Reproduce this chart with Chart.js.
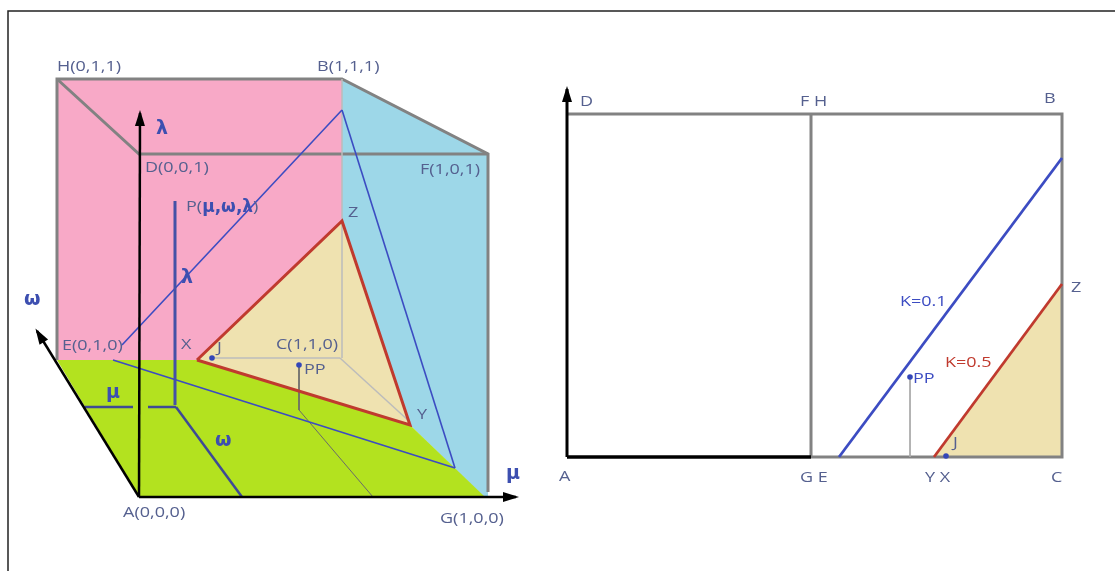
<!DOCTYPE html>
<html><head><meta charset="utf-8">
<script src="https://cdn.jsdelivr.net/npm/chart.js@4.4.0/dist/chart.umd.min.js"></script>
<style>html,body{margin:0;padding:0;background:#fff;overflow:hidden}canvas{display:block}</style>
</head><body>
<canvas id="c" width="1115" height="571"></canvas>
<script>
// ---------- data (picture coordinates) ----------
const frame        = [[8,571],[8,11],[1115,11]];
// left panel: faces
const pinkFace     = [[57,79],[342,79],[342,360],[57,360]];
const blueFace     = [[342,79],[488,154],[488,497],[484,497],[410,425],[342,221]];
const greenFace    = [[57,360],[197,360],[410,425],[485,497],[139,497]];
const triFace      = [[197,360],[342,221],[410,425]];
// left panel: edges
const cubeEdges    = [
  [[57,360],[57,79],[342,79],[488,154],[488,492]],
  [[57,79],[139,154],[488,154]]
];
const innerEdges   = [[[342,79],[342,358]],[[212,358],[340,358]],[[340,358],[410,422]]];
const ppDrop       = [[299,365],[299,410],[373,497]];
const redTri       = [[197,360],[342,221],[410,425],[197,360]];
const bluePlane    = [[[342,110],[122,345]],[[113,360],[455,468]],[[455,468],[342,110]]];
const pStem        = [[175,201],[175,405]];
const muTicks      = [[[85,407],[133,407]],[[148,407],[176,407]]];
const omegaStem    = [[176,407],[242,497]];
const axLambda     = [[139,497],[140,113]];
const axOmega      = [[139,497],[37,331]];
const axMu         = [[139,497],[516,497]];
const dotsLeft     = [[212,358],[299,365]];
// right panel
const rectGray     = [[811,457],[1062,457],[1062,114],[567,114]];
const midGray      = [[811,114],[811,457]];
const axV          = [[567,457],[567,89]];
const axH          = [[567,457],[811,457]];
const lineK01      = [[839,457],[1062,158]];
const lineK05      = [[934,457],[1062,284]];
const beigeRight   = [[934,457],[1062,284],[1062,457]];
const ppDropRight  = [[910,377],[910,457]];
const dotsRight    = [[910,377],[946,456]];
// text labels: [text, x, y, style]
const labelsTxt = [
  ['H(0,1,1)',57,67,'n'],['B(1,1,1)',317,67,'n'],['D(0,0,1)',145,168,'n'],['F(1,0,1)',420,170,'n'],
  ['Z',348,213,'n'],['E(0,1,0)',62,346,'n'],['X',181,345,'n'],['J',217,348,'n'],['C(1,1,0)',276,345,'n'],
  ['PP',304,370,'n'],['Y',417,415,'n'],['A(0,0,0)',123,513,'n'],['G(1,0,0)',440,519,'n'],
  ['D',580,102,'n'],['F H',800,102,'n'],['B',1044,99,'n'],['A',559,477,'n'],['G E',800,478,'n'],
  ['Y X',925,478,'n'],['C',1051,478,'n'],['Z',1071,288,'n'],['K=0.1',900,302,'b'],['K=0.5',945,363,'r'],
  ['PP',913,379,'b'],['J',953,443,'n'],
  ['λ',156,129,'g'],['λ',181,278,'g'],['ω',24,300,'g'],['μ',106,393,'g'],['ω',215,441,'g'],['μ',506,474,'g']
];
const pLabel = [['P(','n'],['μ,ω,λ','g'],[')','n']];
const pLabelPos = [186,207];

// ---------- styles ----------
const C = {pink:'#f8a9c7', sky:'#9dd7e8', green:'#b3e21f', beige:'#efe2b0', red:'#c03a2e',
  blue:'#3c4cc2', gray:'#828282', light:'#bcbcbc', dark:'#6a6a6a', txt:'#55608f', greek:'#3d4fb0', navy:'#3e4a95'};

const pts = a => a.map(([x,y]) => ({x, y}));
const specs = [];
const L = (a, col, w) => specs.push({a, col, w});
L(frame,'#222',1.5);
cubeEdges.forEach(e => L(e, C.gray, 3));
innerEdges.forEach(e => L(e, C.light, 1.5));
L(ppDrop, C.dark, 1);
bluePlane.forEach(e => L(e, C.blue, 1.6));
L(redTri, C.red, 3);
L(pStem, '#4451a6', 3);
muTicks.forEach(e => L(e, C.navy, 2.5));
L(omegaStem, C.navy, 2.5);
L(axLambda,'#000',2.5); L(axOmega,'#000',2.5); L(axMu,'#000',2.5);
L(rectGray, C.gray, 3); L(midGray, C.gray, 3);
L(ppDropRight, '#aaaaaa', 1);
L(axV,'#000',3); L(axH,'#000',3.5);
L(lineK01, C.blue, 2.8); L(lineK05, C.red, 2.8);

const N = specs.length + 2;
const datasets = specs.map((s,i) => ({data: pts(s.a), showLine:true, borderColor:s.col, borderWidth:s.w,
  pointRadius:0, pointHoverRadius:0, fill:false, tension:0, order:N-i, borderCapStyle:'butt', borderJoinStyle:'miter'}));
datasets.push({data: pts(dotsLeft.concat(dotsRight)), showLine:false, pointRadius:2.8, pointHoverRadius:2.8,
  backgroundColor:'#3346b8', borderColor:'#3346b8', borderWidth:0, order:0});

const polys = [[pinkFace,C.pink],[blueFace,C.sky],[greenFace,C.green],[triFace,C.beige],[beigeRight,C.beige]];
const arrows = [axLambda, axOmega, axMu, axV];

const fonts = {n:'15px "Open Sans"', b:'15px "Open Sans"', r:'15px "Open Sans"', g:'bold 19px "DejaVu Sans"'};
const cols  = {n:C.txt, b:'#3c4cc2', r:'#c03a2e', g:C.greek};
const sxs   = {n:1.2, b:1.2, r:1.2, g:1};

const drawPlugin = {
  id:'sketch',
  beforeDatasetsDraw(chart){
    const {ctx, scales:{x:sx, y:sy}} = chart;
    ctx.save();
    polys.forEach(([p,col]) => {
      ctx.beginPath();
      p.forEach(([x,y],i) => { const px=sx.getPixelForValue(x), py=sy.getPixelForValue(y); i?ctx.lineTo(px,py):ctx.moveTo(px,py); });
      ctx.closePath(); ctx.fillStyle=col; ctx.fill();
    });
    ctx.restore();
  },
  afterDatasetsDraw(chart){
    const {ctx, scales:{x:sx, y:sy}} = chart;
    ctx.save();
    arrows.forEach(a => {
      const [x0,y0] = a[a.length-2], [x1,y1] = a[a.length-1];
      const px0=sx.getPixelForValue(x0), py0=sy.getPixelForValue(y0);
      const px1=sx.getPixelForValue(x1), py1=sy.getPixelForValue(y1);
      const ang = Math.atan2(py1-py0, px1-px0), len=13, hw=5;
      ctx.beginPath();
      ctx.moveTo(px1 + Math.cos(ang)*3, py1 + Math.sin(ang)*3);
      ctx.lineTo(px1 - Math.cos(ang)*len - Math.sin(ang)*hw, py1 - Math.sin(ang)*len + Math.cos(ang)*hw);
      ctx.lineTo(px1 - Math.cos(ang)*len + Math.sin(ang)*hw, py1 - Math.sin(ang)*len - Math.cos(ang)*hw);
      ctx.closePath(); ctx.fillStyle='#000'; ctx.fill();
    });
    ctx.textBaseline='middle'; ctx.textAlign='left';
    const put = (t, x, y, st) => {
      ctx.save(); ctx.translate(x, y); ctx.scale(sxs[st],1);
      ctx.font = fonts[st]; ctx.fillStyle = cols[st]; ctx.fillText(t,0,0);
      const w = ctx.measureText(t).width*sxs[st]; ctx.restore(); return w;
    };
    labelsTxt.forEach(([t,x,y,st]) => put(t, sx.getPixelForValue(x), sy.getPixelForValue(y), st));
    let cx = sx.getPixelForValue(pLabelPos[0]); const cy = sy.getPixelForValue(pLabelPos[1]);
    pLabel.forEach(([t,st]) => {
      if (st==='g') { ctx.save(); ctx.font='bold 17px "DejaVu Sans"'; ctx.fillStyle=C.greek; ctx.fillText(t,cx,cy+1); cx += ctx.measureText(t).width; ctx.restore(); }
      else cx += put(t, cx, cy, st); });
    ctx.restore();
  }
};

new Chart(document.getElementById('c'), {
  type:'scatter',
  data:{datasets},
  options:{
    responsive:false, animation:false, devicePixelRatio:1,
    layout:{padding:0, autoPadding:false},
    events:[],
    scales:{
      x:{type:'linear', min:0, max:1115, display:false},
      y:{type:'linear', min:0, max:571, reverse:true, display:false}
    },
    plugins:{legend:{display:false}, tooltip:{enabled:false}}
  },
  plugins:[drawPlugin]
});
</script>
</body></html>
